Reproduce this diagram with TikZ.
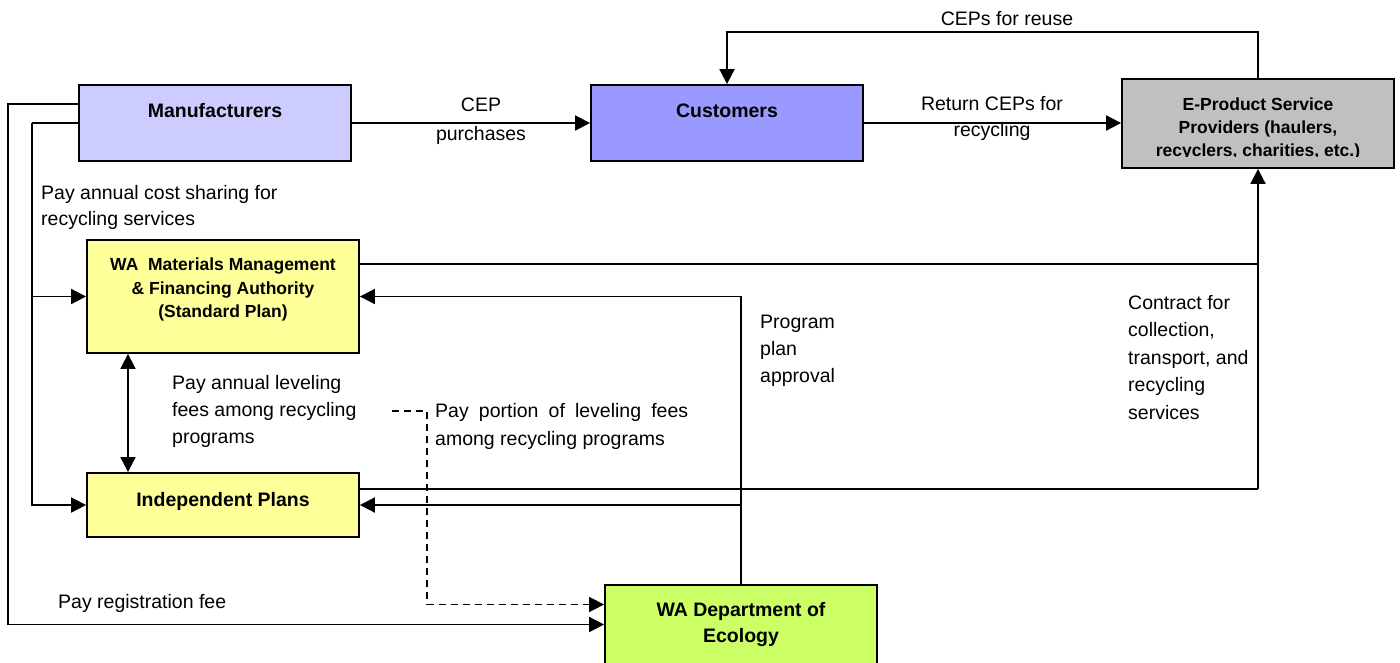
\documentclass[tikz,border=0pt]{standalone}
\usepackage{fontspec}
\setmainfont{Liberation Sans}
\usetikzlibrary{arrows.meta}
\definecolor{manufc}{HTML}{CCCCFF}
\definecolor{custc}{HTML}{9999FF}
\definecolor{espc}{HTML}{C0C0C0}
\definecolor{planc}{HTML}{FFFF99}
\definecolor{ecoc}{HTML}{CCFF66}
\begin{document}
\begin{tikzpicture}[x=1pt,y=-1pt,
  box/.style={draw, line width=1.8pt, minimum width=272pt, inner sep=0pt, align=center,
    font=\fontsize{19.5}{26.5}\selectfont\bfseries},
  lnk/.style={line width=1.8pt},
  conn/.style={line width=1.8pt, -{Triangle[length=15pt,width=15pt]}},
  dconn/.style={line width=1.8pt, {Triangle[length=15pt,width=15pt]}-{Triangle[length=15pt,width=15pt]}},
  lbl/.style={inner sep=0pt, anchor=north west, align=left},
  clbl/.style={inner sep=0pt, anchor=north, align=center},
  every node/.append style={font=\fontsize{19.5}{27}\selectfont}
]
\useasboundingbox (0,0) rectangle (1400,662);

% boxes
\node[box, fill=manufc, minimum height=76pt] (man) at (215,123) {Manufacturers\rule[-25pt]{0pt}{0pt}};
\node[box, fill=custc, minimum height=76pt] (cust) at (727,123) {Customers\rule[-25pt]{0pt}{0pt}};
\node[box, fill=espc, minimum height=89pt] (esp) at (1258,123.5) {};
\begin{scope}
  \clip (1123,80) rectangle (1393,156);
  \node[clbl, font=\fontsize{17.5}{23}\selectfont\bfseries] (esptext) at (1258,97.5)
    {E-Product Service\\Providers (haulers,\\recyclers, charities, etc.)};
\end{scope}
\node[box, fill=planc, minimum height=113pt, font=\fontsize{17.5}{23.5}\selectfont\bfseries] (wa) at (223,296.5)
  {WA\ \ Materials Management\\\& Financing Authority\\(Standard Plan)\rule[-17pt]{0pt}{0pt}};
\node[box, fill=planc, minimum height=64pt] (ind) at (223,505) {Independent Plans\rule[-12pt]{0pt}{0pt}};
\node[box, fill=ecoc, minimum height=79pt] (eco) at (741,624.5) {WA Department of\\Ecology};

% coordinates
\coordinate (outerL) at (8,104);
\coordinate (innerL) at (32,123);
\coordinate (dashS) at (392,411);
\coordinate (dashB) at (427,411);
\coordinate (reuseT) at (1258,32);
\coordinate (waC) at ([yshift=32.5pt]wa.east);
\coordinate (indC) at ([yshift=16pt]ind.east);

% connectors
\draw[conn] (man) -- (cust);
\draw[conn] (cust.east) -- (cust.east -| esp.west);
\draw[conn] (esp.north) -- (reuseT) -| (cust.north);
\draw[conn] ([yshift=19pt]man.west) -- (outerL) |- (eco.west);
\draw[lnk] (man.west) -- (innerL);
\draw[conn] (innerL |- wa.west) -- (wa.west);
\draw[conn] (innerL) |- (ind.west);
\draw[dconn] ([xshift=-95pt]wa.south) -- ([xshift=-95pt]ind.north);
\draw[conn, line width=1.5pt, dash pattern=on 7pt off 5pt] (dashS) -- (dashB) |- ([yshift=20pt]eco.west);
\draw[conn] (eco.north) |- (wa.east);
\draw[conn] (eco.north |- ind.east) -- (ind.east);
\draw[lnk] (waC) -- (waC -| esp.south);
\draw[lnk] (indC) -- (indC -| esp.south);
\draw[conn] (indC -| esp.south) -- (esp.south);

% labels
\node[clbl] (reuselbl) at (1007,11) {CEPs for reuse};
\node[clbl, font=\fontsize{19.5}{28.5}\selectfont] (ceplbl) at (481,98) {CEP\\purchases};
\node[clbl, font=\fontsize{19.5}{26.5}\selectfont] (retlbl) at (992,96) {Return CEPs for\\recycling};
\node[lbl, font=\fontsize{19.5}{26.5}\selectfont] (costlbl) at (41,185) {Pay annual cost sharing for\\recycling services};
\node[lbl] (levlbl) at (172,375) {Pay annual leveling\\fees among recycling\\programs};
\node[lbl, text width=253pt, align=justify, font=\fontsize{19.5}{28}\selectfont] (portlbl) at (435,403)
  {Pay portion of leveling fees among recycling programs};
\node[lbl] (proglbl) at (760,315) {Program\\plan\\approval};
\node[lbl, font=\fontsize{19.5}{27.5}\selectfont] (contlbl) at (1128,295) {Contract for\\collection,\\transport, and\\recycling\\services};
\node[lbl] (reglbl) at (58,594) {Pay registration fee};
\end{tikzpicture}
\end{document}
